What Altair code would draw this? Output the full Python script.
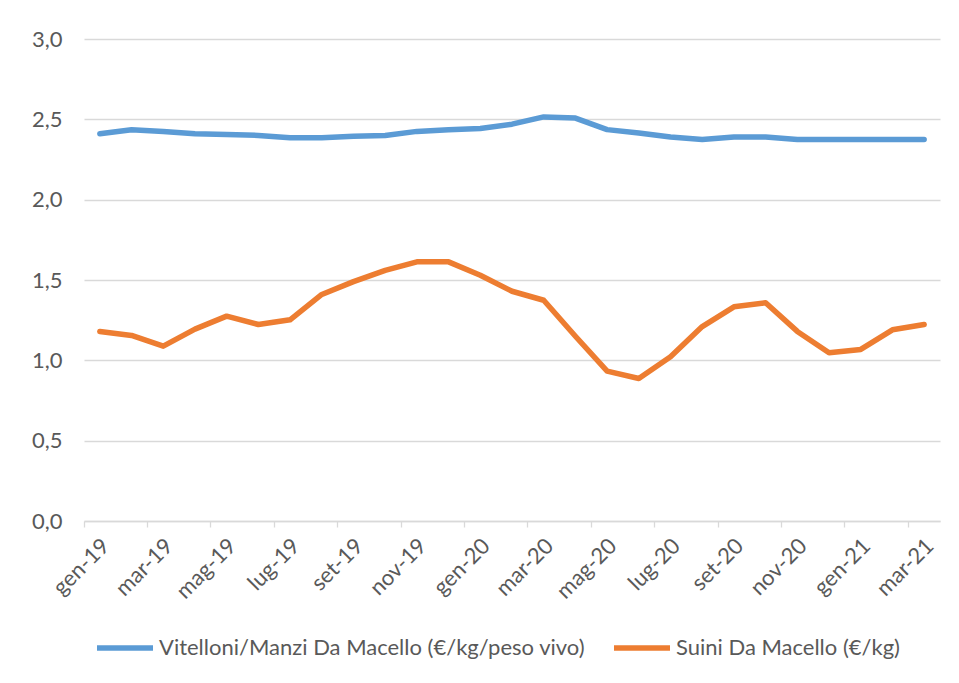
import altair as alt
import pandas as pd

months = ["gen-19", "feb-19", "mar-19", "apr-19", "mag-19", "giu-19", "lug-19", "ago-19",
          "set-19", "ott-19", "nov-19", "dic-19", "gen-20", "feb-20", "mar-20", "apr-20",
          "mag-20", "giu-20", "lug-20", "ago-20", "set-20", "ott-20", "nov-20", "dic-20",
          "gen-21", "feb-21", "mar-21"]

vitelloni = [2.41, 2.435, 2.425, 2.41, 2.405, 2.40, 2.386, 2.386, 2.394, 2.40, 2.425, 2.435,
             2.443, 2.47, 2.515, 2.508, 2.436, 2.415, 2.39, 2.374, 2.39, 2.39, 2.374, 2.374,
             2.374, 2.374, 2.374]

suini = [1.18, 1.155, 1.088, 1.194, 1.275, 1.223, 1.252, 1.41, 1.49, 1.56, 1.613, 1.613,
         1.53, 1.43, 1.374, 1.15, 0.933, 0.887, 1.022, 1.21, 1.333, 1.358, 1.18, 1.047,
         1.068, 1.19, 1.223]

series_names = ["Vitelloni/Manzi Da Macello (€/kg/peso vivo)", "Suini Da Macello (€/kg)"]
series_colors = ["#5B9BD5", "#ED7D31"]
y_ticks = [0.0, 0.5, 1.0, 1.5, 2.0, 2.5, 3.0]

rows = []
for m, v in zip(months, vitelloni):
    rows.append({"mese": m, "valore": v, "serie": series_names[0]})
for m, v in zip(months, suini):
    rows.append({"mese": m, "valore": v, "serie": series_names[1]})
df = pd.DataFrame(rows)

FONT = "Lato"
TXT = "#595959"
GRID = "#d9d9d9"

chart = alt.Chart(df).mark_line(strokeWidth=5.5, strokeCap="round", strokeJoin="round").encode(
    x=alt.X("mese:N", sort=months,
            scale=alt.Scale(type="band", domain=months, paddingInner=0, paddingOuter=0),
            axis=alt.Axis(values=months[::2], bandPosition=0, labelOffset=6,
                          labelAngle=-45, labelAlign="right", labelBaseline="middle",
                          labelPadding=15, tickColor=GRID, tickSize=6, tickWidth=1.3,
                          domainColor=GRID, domainWidth=1.3, grid=False, title=None,
                          labelFont=FONT, labelFontSize=22, labelColor=TXT)),
    y=alt.Y("valore:Q", scale=alt.Scale(domain=[0, 3]),
            axis=alt.Axis(values=y_ticks, labelExpr="replace(format(datum.value, '.1f'), '.', ',')",
                          domain=False, ticks=False, grid=True, gridColor=GRID, gridWidth=1.3,
                          labelPadding=22, title=None,
                          labelFont=FONT, labelFontSize=22, labelColor=TXT)),
    color=alt.Color("serie:N", sort=series_names,
                    scale=alt.Scale(domain=series_names, range=series_colors),
                    legend=alt.Legend(orient="none", legendX=10, legendY=578, direction="horizontal",
                                      title=None, symbolType="stroke", symbolSize=3136,
                                      symbolStrokeWidth=5.5, labelOffset=3, columnPadding=17,
                                      labelFont=FONT, labelFontSize=22, labelColor=TXT,
                                      labelLimit=0)),
).properties(
    width=856, height=482,
    autosize=alt.AutoSizeParams(type="none"),
    padding={"left": 76, "top": 31, "right": 10, "bottom": 160},
    background="white",
).configure_view(stroke=None)

chart.save("out.html", embed_options={"renderer": "svg", "actions": False})
